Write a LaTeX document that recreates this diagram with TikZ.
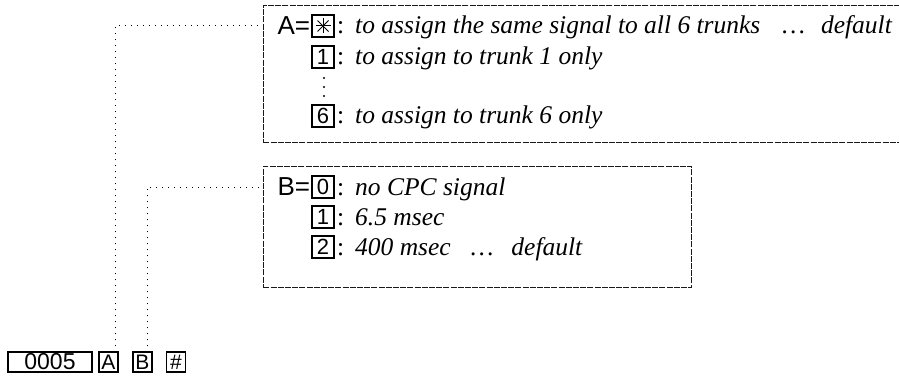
\documentclass[tikz,border=0pt]{standalone}
\usepackage{fontspec}
\setmainfont{Liberation Serif}
\setsansfont{Liberation Sans}
\usetikzlibrary{calc}
\begin{document}
\begin{tikzpicture}[x=1pt,y=-1pt,
  keycap/.style={draw, line width=1.5pt, inner sep=0pt, minimum width=22pt, minimum height=22pt, font=\sffamily\fontsize{22}{22}\selectfont},
  lowkey/.style={keycap, minimum width=19pt, minimum height=20pt, font=\sffamily\fontsize{21}{21}\selectfont},
  eqlabel/.style={anchor=east, inner sep=0pt, font=\sffamily\fontsize{26}{26}\selectfont},
  desc/.style={anchor=base west, inner sep=0pt, font=\fontsize{25.5}{25.5}\selectfont\itshape},
  colon/.style={anchor=base west, inner sep=0pt, font=\fontsize{25.5}{25.5}\selectfont},
  frame/.style={draw=black!90, line width=0.7pt, dash pattern=on 6pt off 1.2pt, inner sep=0pt, anchor=north west},
  conn/.style={draw, line width=1pt, dash pattern=on 1pt off 5pt},
  vdot/.style={fill, circle, inner sep=0pt, minimum size=2.4pt},
  starkey/.style={keycap, path picture={
    \draw[line width=1pt] ($(path picture bounding box.center)+(-7.5,0)$) -- ++(15,0);
    \draw[line width=1pt] ($(path picture bounding box.center)+(0,-7.5)$) -- ++(0,15);
    \draw[line width=1pt] ($(path picture bounding box.center)+(-5.5,-5.5)$) -- ++(11,11);
    \draw[line width=1pt] ($(path picture bounding box.center)+(-5.5,5.5)$) -- ++(11,-11);
  }}
]
\useasboundingbox (0,0) rectangle (899,385);

% frames
\node[frame, minimum width=700pt, minimum height=137pt] (boxA) at (263,5) {};
\node[frame, minimum width=428pt, minimum height=121pt] (boxB) at (263,166) {};

% box A rows
\node[starkey] (kStar) at (323,26) {};
\node[eqlabel] (lblA) at ([xshift=-1pt]kStar.west) {A=};
\node[colon] (cStar) at (337,34) {:};
\node[desc] (tA1) at (355,34) {to assign the same signal to all 6 trunks\hspace{22pt}\ldots\hspace{16pt}default};

\node[keycap] (kOne) at (323,57) {1};
\node[colon] (cOne) at (337,65) {:};
\node[desc] (tA2) at (355,65) {to assign to trunk 1 only};

\node[vdot] (d1) at (324,78) {};
\node[vdot] (d2) at (324,87) {};
\node[vdot] (d3) at (324,96) {};

\node[keycap] (kSix) at (323,116) {6};
\node[colon] (cSix) at (337,124) {:};
\node[desc] (tA6) at (355,124) {to assign to trunk 6 only};

% box B rows
\node[keycap] (kZero) at (323,187) {0};
\node[eqlabel] (lblB) at ([xshift=-1pt]kZero.west) {B=};
\node[colon] (cZero) at (337,195) {:};
\node[desc] (tB0) at (355,195) {no CPC signal};

\node[keycap] (kOneB) at (323,217) {1};
\node[colon] (cOneB) at (337,225) {:};
\node[desc] (tB1) at (355,225) {6.5 msec};

\node[keycap] (kTwo) at (323,247) {2};
\node[colon] (cTwo) at (337,255) {:};
\node[desc] (tB2) at (355,255) {400 msec\hspace{20pt}\ldots\hspace{18pt}default};

% bottom key sequence
\node[draw, line width=1.5pt, minimum width=84pt, minimum height=20pt, inner sep=0pt,
      font=\sffamily\fontsize{23}{23}\selectfont] (kCode) at (50,362) {0005\hspace{12pt}};
\node[lowkey] (kA) at (108.5,362) {A};
\node[lowkey] (kB) at (142.5,362) {B};
\node[lowkey] (kHash) at (176,362) {\#};

% connectors
\draw[conn, shorten <=5pt] ([xshift=7pt]kA.north) |- (boxA.west |- kStar.center);
\draw[conn, shorten <=5pt] ([xshift=5pt]kB.north) |- (boxB.west |- kZero.center);
\end{tikzpicture}
\end{document}
